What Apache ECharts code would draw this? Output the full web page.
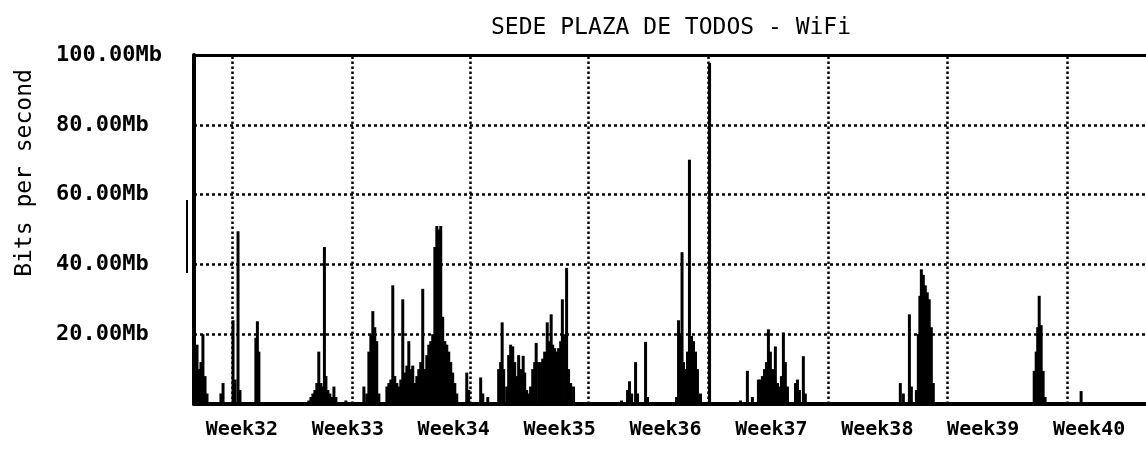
<!DOCTYPE html>
<html><head><meta charset="utf-8">
<script src="https://cdn.jsdelivr.net/npm/echarts@6/dist/echarts.min.js"></script>
<style>html,body{margin:0;padding:0;background:#fff}#c{width:1146px;height:450px}</style>
</head><body><div id="c"></div>
<script>
// ---- chart texts ----
const chartTitle = 'SEDE PLAZA DE TODOS - WiFi';
const yAxisName = 'Bits per second';

// ---- x axis: days counted from Monday of Week32 ----
const weekLabels = ['Week32','Week33','Week34','Week35','Week36','Week37','Week38','Week39','Week40'];
const weekLabelDays = [3.5, 10.5, 17.5, 24.5, 31.5, 38.5, 45.5, 52.5, 59.5];
const gridLineDays = [2.84, 10.76, 18.62, 26.41, 34.34, 42.26, 50.12, 58.05];
const xStartDay = 0.33;
const xEndDay = 63.26;

// ---- y axis (Mb per second) ----
const yTickValues = [0, 20, 40, 60, 80, 100];

// ---- traffic samples (day, Mb/s) ----
const sampleDays = [
  0.53, 0.66, 0.79, 0.92, 1.06, 1.19, 2.11, 2.25, 2.91, 3.04, 3.24, 3.37, 4.42, 4.52, 4.62,
  7.92, 8.06, 8.19, 8.32, 8.45, 8.58, 8.72, 8.85, 8.95, 9.05, 9.18, 9.31, 9.44, 9.58, 9.71, 10.37,
  11.56, 11.75, 11.89, 12.02, 12.15, 12.28, 12.41, 12.55,
  13.08, 13.21, 13.34, 13.47, 13.60, 13.74, 13.87, 14.00, 14.13, 14.26, 14.40, 14.53, 14.66, 14.79,
  14.92, 15.06, 15.19, 15.32, 15.45, 15.58, 15.72, 15.85, 15.98, 16.11, 16.25, 16.38, 16.51, 16.64,
  16.77, 16.91, 17.04, 17.17, 17.30, 17.43, 17.57, 17.70, 18.36, 18.49, 19.28, 19.42, 19.75,
  20.47, 20.60, 20.70, 20.80, 21.00, 21.13, 21.26, 21.40, 21.53, 21.66, 21.79, 21.92, 22.09, 22.19,
  22.32, 22.45, 22.58, 22.72, 22.85, 22.95, 23.11, 23.25, 23.38, 23.51, 23.68, 23.77, 23.94, 24.04,
  24.17, 24.30, 24.43, 24.57, 24.68, 24.83, 24.96, 25.09, 25.23, 25.42,
  28.59, 28.99, 29.12, 29.26, 29.52, 29.65, 30.18, 30.31,
  32.23, 32.36, 32.49, 32.59, 32.69, 32.82, 32.95, 33.08, 33.22, 33.35, 33.48, 33.61, 33.81, 34.41,
  36.45, 36.91, 37.24, 37.64, 37.77, 37.90, 38.04, 38.17, 38.30, 38.43, 38.57, 38.76, 38.90, 39.03,
  39.16, 39.29, 39.42, 39.56, 40.09, 40.22, 40.35, 40.61, 40.74,
  47.02, 47.22, 47.62, 47.75, 48.08, 48.21, 48.31, 48.41, 48.54, 48.67, 48.80, 48.93, 49.07, 49.20,
  55.87, 56.00, 56.10, 56.20, 56.33, 56.46, 56.59, 58.97
];
const sampleMbps = [
  17, 10, 12, 20, 8, 3, 3, 6, 24, 7, 49.5, 4, 19, 23.7, 15,
  1, 2, 3, 4, 6, 15, 6, 5, 45, 8, 4, 3, 2, 5, 2, 1,
  5, 3, 15, 20, 26.6, 22, 18, 3,
  5, 6, 7, 34, 8, 6, 5, 7, 30, 9, 11, 18, 10, 11,
  6, 8, 10, 12, 33, 10, 14, 17, 18, 20, 45, 51, 50, 51,
  25, 18, 17, 15, 12, 9, 6, 3, 9, 4, 7.6, 3, 2,
  10, 12, 23.4, 10, 5, 14, 17, 16.5, 12, 8, 14, 10, 13.8, 9,
  4, 3, 5, 10, 12, 17.5, 12, 12, 13, 15, 23.4, 18, 25.7, 17,
  16, 15, 16, 18, 30, 20, 39, 10, 6, 5,
  1, 4, 6.5, 3, 12, 3, 17.8, 2,
  2, 24, 20, 43.5, 12, 10, 15, 70, 19.5, 18, 15, 10, 3, 97.7,
  1, 9.5, 2, 7, 7, 8, 10, 12, 21.4, 15, 10, 16.5, 6, 5,
  8, 20.5, 12, 5, 6, 7, 4, 13.7, 3,
  6, 3, 25.7, 5, 4, 20, 31, 38.6, 37, 34, 32, 30, 22, 6,
  9.5, 15, 22, 31, 22.6, 9.5, 2, 3.7
];

const FONT = '"DejaVu Sans Mono", "Liberation Mono", monospace';
const chart = echarts.init(document.getElementById('c'), null, {renderer: 'canvas'});
const seriesData = sampleDays.map((d, i) => [d, sampleMbps[i]]);

chart.setOption({
  animation: false,
  backgroundColor: '#ffffff',
  title: {
    text: chartTitle,
    left: 486, top: 12,
    textStyle: {fontFamily: FONT, fontSize: 23, fontWeight: 'normal', color: '#000'}
  },
  grid: {left: 194, right: 0, top: 55, bottom: 46, containLabel: false},
  xAxis: [{
    type: 'value', position: 'bottom',
    min: xStartDay, max: xEndDay,
    axisLine: {show: true, onZero: false, lineStyle: {color: '#000', width: 4}},
    axisTick: {show: true, inside: true, length: 349, customValues: gridLineDays,
      lineStyle: {color: '#000', width: 2.5, type: [2.5, 2.5]}},
    axisLabel: {show: true, customValues: weekLabelDays, margin: 16,
      fontFamily: FONT, fontSize: 20, fontWeight: 'bold', color: '#000',
      formatter: function (v) {
        let best = 0;
        for (let i = 1; i < weekLabelDays.length; i++) {
          if (Math.abs(weekLabelDays[i] - v) < Math.abs(weekLabelDays[best] - v)) best = i;
        }
        return weekLabels[best];
      }},
    splitLine: {show: false}
  }, {
    type: 'value', position: 'top',
    min: xStartDay, max: xEndDay,
    axisLine: {show: true, onZero: false, lineStyle: {color: '#000', width: 3}},
    axisTick: {show: false}, axisLabel: {show: false}, splitLine: {show: false}
  }],
  yAxis: {
    type: 'value', min: yTickValues[0], max: yTickValues[yTickValues.length - 1], interval: 20,
    axisLine: {show: true, onZero: false, lineStyle: {color: '#000', width: 4}},
    axisTick: {show: false},
    axisLabel: {
      show: true, align: 'left', margin: 138, padding: [0, 0, 9, 0],
      fontFamily: FONT, fontSize: 22, fontWeight: 'bold', color: '#000',
      formatter: function (v) { return v === 0 ? '' : v.toFixed(2) + 'Mb'; }
    },
    splitLine: {show: true, lineStyle: {color: '#000', width: 2.5, type: [3, 3]}}
  },
  graphic: [{
    type: 'text', x: 25, y: 173, rotation: Math.PI / 2,
    style: {text: yAxisName, font: '23px ' + FONT, fill: '#000', align: 'center', verticalAlign: 'middle'}
  }, {
    type: 'line', shape: {x1: 187, y1: 200, x2: 187, y2: 273},
    style: {stroke: '#000', lineWidth: 2}
  }],
  series: [{
    type: 'bar', xAxisIndex: 0, yAxisIndex: 0,
    data: seriesData, barWidth: 3,
    itemStyle: {color: '#000'}
  }]
});
</script></body></html>
